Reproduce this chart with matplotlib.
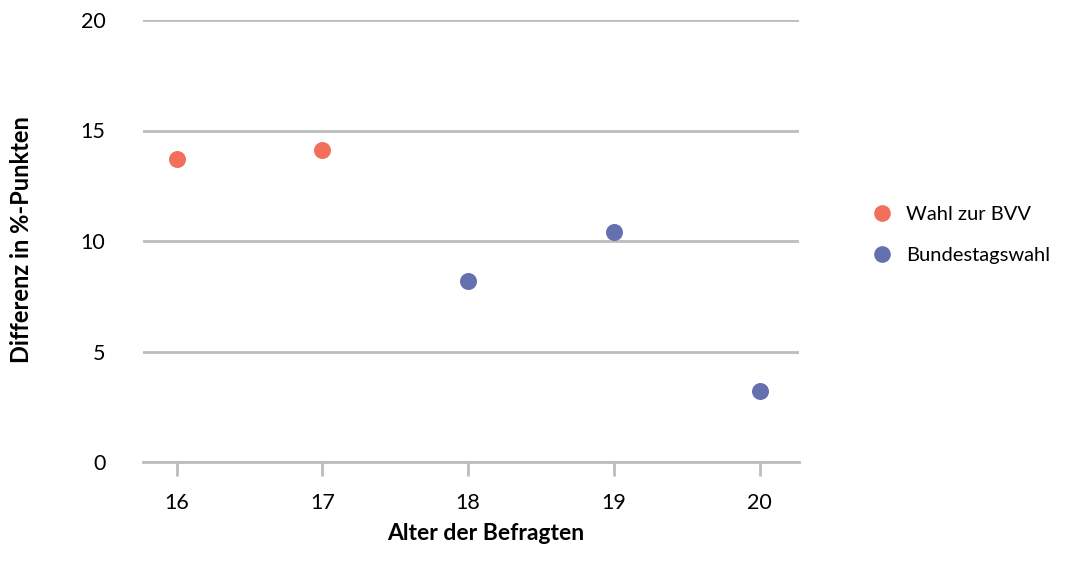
import matplotlib.pyplot as plt
from matplotlib.lines import Line2D

plt.rcParams['font.family'] = ['Lato', 'DejaVu Sans']

alter_bvv = [16, 17]
diff_bvv = [13.7, 14.1]
alter_btw = [18, 19, 20]
diff_btw = [8.2, 10.4, 3.2]

x_ticks = [16, 17, 18, 19, 20]
y_ticks = [0, 5, 10, 15, 20]

col_bvv = '#F2705A'
col_btw = '#6471AE'
grid_col = '#BDBDBD'

fig = plt.figure(figsize=(10.82, 5.73), dpi=100)
ax = fig.add_axes([143 / 1082, 1 - 462 / 573, (799 - 143) / 1082, (462 - 20) / 573])

ax.scatter(alter_bvv, diff_bvv, s=150, color=col_bvv, zorder=3, linewidths=0)
ax.scatter(alter_btw, diff_btw, s=150, color=col_btw, zorder=3, linewidths=0)

ax.set_xlim(15.77, 20.27)
ax.set_ylim(0, 20)
ax.set_xticks(x_ticks)
ax.set_yticks(y_ticks)
ax.grid(axis='y', color=grid_col, linewidth=2)
ax.set_axisbelow(True)
for s in ['top', 'right', 'left']:
    ax.spines[s].set_visible(False)
ax.spines['bottom'].set_color(grid_col)
ax.spines['bottom'].set_linewidth(2)
ax.tick_params(axis='x', colors=grid_col, length=10, width=2, pad=12, labelcolor='black', labelsize=15.5)
ax.tick_params(axis='y', length=0, pad=27, labelsize=15.5)

fig.text(486 / 1082, 1 - 533 / 573, 'Alter der Befragten', ha='center', va='center',
         fontsize=16.5, fontweight='bold')
fig.text(22 / 1082, 1 - 240 / 573, 'Differenz in %-Punkten', ha='center', va='center',
         rotation=90, fontsize=17, fontweight='bold')

handles = [
    Line2D([], [], marker='o', linestyle='', markersize=12, color=col_bvv, markeredgewidth=0),
    Line2D([], [], marker='o', linestyle='', markersize=12, color=col_btw, markeredgewidth=0),
]
fig.legend(handles, ['Wahl zur BVV', 'Bundestagswahl'], loc='center left',
           bbox_to_anchor=(844 / 1082, 1 - 235 / 573), frameon=False, fontsize=14.5,
           handletextpad=0.2, labelspacing=1.2)

fig.savefig('out.png', dpi=100)
